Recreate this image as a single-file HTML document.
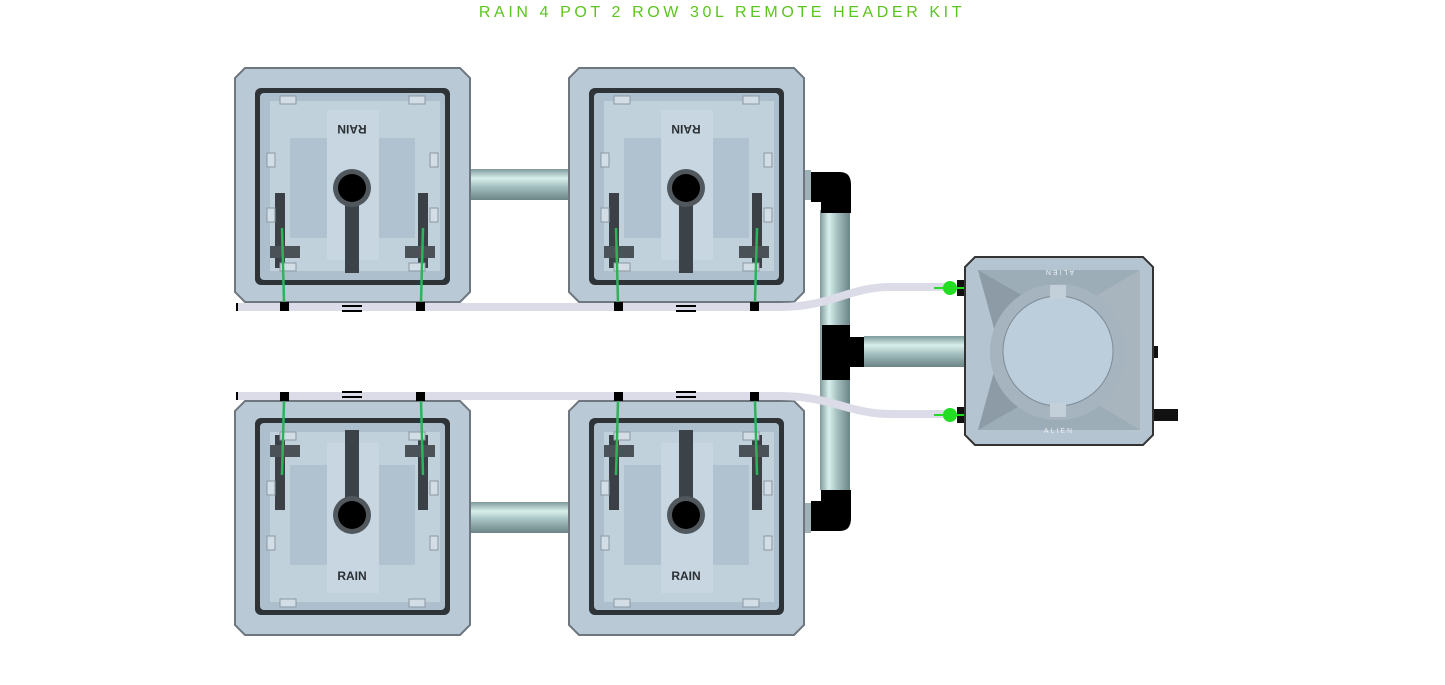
<!DOCTYPE html>
<html><head><meta charset="utf-8"><style>
html,body{margin:0;padding:0;background:#fff;width:1445px;height:685px;overflow:hidden}
svg{display:block}
</style></head><body>
<svg width="1445" height="685" viewBox="0 0 1445 685" xmlns="http://www.w3.org/2000/svg">
<defs>
<linearGradient id="pipeH" x1="0" y1="0" x2="0" y2="1">
<stop offset="0" stop-color="#7f9a9c"/><stop offset="0.3" stop-color="#d8f0ec"/><stop offset="0.55" stop-color="#a9c4c4"/><stop offset="1" stop-color="#6b8486"/>
</linearGradient>
<linearGradient id="pipeV" x1="0" y1="0" x2="1" y2="0">
<stop offset="0" stop-color="#7f9a9c"/><stop offset="0.3" stop-color="#d8f0ec"/><stop offset="0.55" stop-color="#a9c4c4"/><stop offset="1" stop-color="#6b8486"/>
</linearGradient>
<g id="pot">
<polygon points="10,0 225,0 235,10 235,224 225,234 10,234 0,224 0,10" fill="#b9c9d5" stroke="#6e7780" stroke-width="2"/>
<rect x="20" y="20" width="195" height="197" rx="6" fill="#2e3338"/>
<rect x="25" y="25" width="185" height="187" rx="4" fill="#adbfcc"/>
<rect x="35" y="33" width="170" height="170" fill="#c1d1dc"/>
<rect x="55" y="70" width="40" height="100" fill="#b0c2cf"/>
<rect x="140" y="70" width="40" height="100" fill="#b0c2cf"/>
<rect x="92" y="42" width="52" height="150" fill="#c7d6e0"/>
<rect x="40" y="125" width="10" height="75" fill="#3a4046"/>
<rect x="183" y="125" width="10" height="75" fill="#3a4046"/>
<rect x="35" y="178" width="30" height="12" fill="#4a5258"/>
<rect x="170" y="178" width="30" height="12" fill="#4a5258"/>
<rect x="110" y="130" width="14" height="75" fill="#3b4349"/>
<circle cx="117" cy="120" r="19" fill="#50585e"/>
<circle cx="117" cy="120" r="14" fill="#000"/>
<rect x="45" y="28" width="16" height="8" fill="#d2dde5" stroke="#8a98a3"/>
<rect x="174" y="28" width="16" height="8" fill="#d2dde5" stroke="#8a98a3"/>
<rect x="45" y="195" width="16" height="8" fill="#d2dde5" stroke="#8a98a3"/>
<rect x="174" y="195" width="16" height="8" fill="#d2dde5" stroke="#8a98a3"/>
<rect x="32" y="85" width="8" height="14" fill="#d2dde5" stroke="#8a98a3"/>
<rect x="195" y="85" width="8" height="14" fill="#d2dde5" stroke="#8a98a3"/>
<rect x="32" y="140" width="8" height="14" fill="#d2dde5" stroke="#8a98a3"/>
<rect x="195" y="140" width="8" height="14" fill="#d2dde5" stroke="#8a98a3"/>
<line x1="47" y1="160" x2="49" y2="234" stroke="#2db35a" stroke-width="2.5"/>
<line x1="188" y1="160" x2="186" y2="234" stroke="#2db35a" stroke-width="2.5"/>
</g>
</defs>

<text x="722" y="17" text-anchor="middle" font-family="Liberation Sans, sans-serif" font-size="16" letter-spacing="3.6" fill="#5cc41e">RAIN 4 POT 2 ROW 30L REMOTE HEADER KIT</text>

<rect x="468" y="169" width="103" height="31" fill="url(#pipeH)"/>
<rect x="468" y="502" width="103" height="31" fill="url(#pipeH)"/>

<use href="#pot" x="235" y="68"/>
<use href="#pot" x="569" y="68"/>
<g transform="translate(235,635) scale(1,-1)"><use href="#pot"/></g>
<g transform="translate(569,635) scale(1,-1)"><use href="#pot"/></g>

<g font-family="Liberation Sans, sans-serif" font-weight="bold" font-size="12" fill="#2a2f34" text-anchor="middle">
<text x="352" y="133" transform="rotate(180 352 129)">RAIN</text>
<text x="686" y="133" transform="rotate(180 686 129)">RAIN</text>
<text x="352" y="580">RAIN</text>
<text x="686" y="580">RAIN</text>
</g>

<rect x="805" y="170" width="6" height="30" fill="#9eb2b8"/>
<rect x="805" y="503" width="6" height="30" fill="#9eb2b8"/>
<rect x="820" y="210" width="30" height="280" fill="url(#pipeV)"/>
<path d="M811 172 H840 Q851 172 851 185 V213 H821 V202 H811 Z" fill="#000"/>
<path d="M811 531 H840 Q851 531 851 518 V490 H821 V501 H811 Z" fill="#000"/>
<rect x="822" y="325" width="28" height="55" fill="#000"/>
<rect x="850" y="337" width="14" height="30" fill="#000"/>
<rect x="864" y="336" width="102" height="31" fill="url(#pipeH)"/>

<path d="M237 307 H780 C830 307 850 287 890 287 H945" fill="none" stroke="#dcdce8" stroke-width="8"/>
<path d="M237 396 H780 C830 396 850 414 890 414 H945" fill="none" stroke="#dcdce8" stroke-width="8"/>
<rect x="236" y="303" width="2" height="8" fill="#000"/>
<rect x="236" y="392" width="2" height="8" fill="#000"/>
<g fill="#000">
<rect x="280" y="302" width="9" height="9"/><rect x="416" y="302" width="9" height="9"/>
<rect x="614" y="302" width="9" height="9"/><rect x="750" y="302" width="9" height="9"/>
<rect x="342" y="305" width="20" height="2"/><rect x="342" y="310" width="20" height="2"/>
<rect x="676" y="305" width="20" height="2"/><rect x="676" y="310" width="20" height="2"/>
<rect x="280" y="392" width="9" height="9"/><rect x="416" y="392" width="9" height="9"/>
<rect x="614" y="392" width="9" height="9"/><rect x="750" y="392" width="9" height="9"/>
<rect x="342" y="391" width="20" height="2"/><rect x="342" y="396" width="20" height="2"/>
<rect x="676" y="391" width="20" height="2"/><rect x="676" y="396" width="20" height="2"/>
</g>

<rect x="957" y="280" width="8" height="16" fill="#111"/>
<rect x="957" y="407" width="8" height="16" fill="#111"/>
<rect x="1152" y="346" width="6" height="12" fill="#111"/>
<rect x="1152" y="409" width="26" height="12" fill="#111"/>
<polygon points="975,257 1143,257 1153,267 1153,435 1143,445 975,445 965,435 965,267" fill="#b4c4d0" stroke="#333" stroke-width="2"/>
<polygon points="978,270 1140,270 1090,300 1110,350 1140,430 978,430 1030,400 1000,350" fill="#9dadb8"/>
<polygon points="978,270 1030,300 1000,350 1030,400 978,430 1000,350" fill="#8c9ba6"/>
<polygon points="1140,270 1090,300 1115,350 1090,400 1140,430" fill="#a9b5be"/>
<circle cx="1058" cy="352" r="68" fill="#a6b4bf"/>
<circle cx="1058" cy="351" r="55" fill="#bccedb" stroke="#7d8b96"/>
<rect x="1050" y="285" width="16" height="14" fill="#c3d0d9"/>
<rect x="1050" y="403" width="16" height="14" fill="#c3d0d9"/>
<text x="1059" y="276" text-anchor="middle" font-family="Liberation Sans, sans-serif" font-size="7" letter-spacing="2" fill="#e8eef2" transform="rotate(180 1059 273)">ALIEN</text>
<text x="1059" y="433" text-anchor="middle" font-family="Liberation Sans, sans-serif" font-size="7" letter-spacing="2" fill="#e8eef2">ALIEN</text>
<circle cx="950" cy="288" r="7" fill="#22dd22"/>
<line x1="934" y1="288" x2="964" y2="288" stroke="#22dd22" stroke-width="2"/>
<circle cx="950" cy="415" r="7" fill="#22dd22"/>
<line x1="934" y1="415" x2="964" y2="415" stroke="#22dd22" stroke-width="2"/>
</svg>
</body></html>
